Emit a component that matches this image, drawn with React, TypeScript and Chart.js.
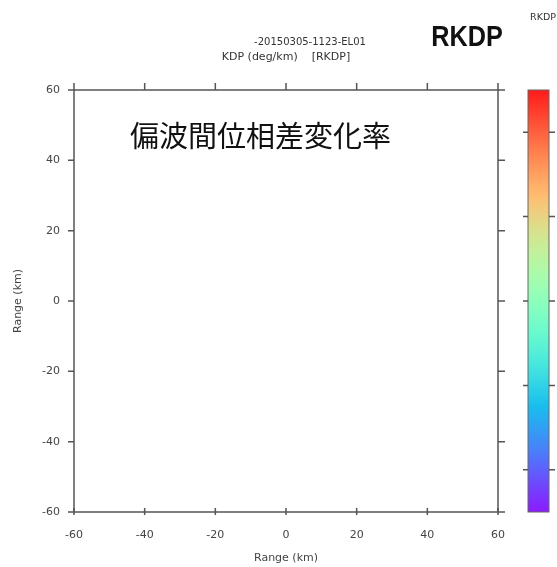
import React, { useEffect, useRef } from "react";
import { Chart, registerables } from "chart.js";

Chart.register(...registerables);

// ---- data ----
const xTickValues = [-60, -40, -20, 0, 20, 40, 60];
const yTickValues = [-60, -40, -20, 0, 20, 40, 60];
const rangeMin = -60;
const rangeMax = 60;
const echoPoints: { x: number; y: number }[] = []; // no echoes shown
const colorbarTickFractions = [0.1, 0.3, 0.5, 0.7, 0.9];
const mainTitle = "偏波間位相差変化率";
const subTitle1 = "-20150305-1123-EL01";
const subTitle2 = "KDP (deg/km)    [RKDP]";
const productName = "RKDP";
const xAxisTitle = "Range (km)";
const yAxisTitle = "Range (km)";

// matplotlib-like "rainbow" colormap (t=0 purple -> t=1 red)
function rainbow(t: number): string {
  const r = Math.min(1, Math.abs(2 * t - 0.5));
  const g = Math.sin(Math.PI * t);
  const b = Math.cos((Math.PI * t) / 2);
  const wash = 0.1;
  const f = (v: number) => Math.round(255 * (v + (1 - v) * wash));
  return `rgb(${f(r)},${f(g)},${f(b)})`;
}

const AXIS_COLOR = "#555";
const TEXT_COLOR = "#444";

const decorPlugin = {
  id: "decor",
  afterDraw(chart: any) {
    const { ctx, chartArea: a, scales } = chart;
    const xs = scales.x;
    const ys = scales.y;
    ctx.save();

    // frame
    ctx.strokeStyle = AXIS_COLOR;
    ctx.lineWidth = 1.5;
    ctx.strokeRect(a.left, a.top, a.right - a.left, a.bottom - a.top);

    // tick marks
    ctx.beginPath();
    for (const v of xTickValues) {
      const px = xs.getPixelForValue(v);
      ctx.moveTo(px, a.top - 7);
      ctx.lineTo(px, a.top);
      ctx.moveTo(px, a.bottom - 4);
      ctx.lineTo(px, a.bottom + 3);
    }
    for (const v of yTickValues) {
      const py = ys.getPixelForValue(v);
      ctx.moveTo(a.left - 6, py);
      ctx.lineTo(a.left, py);
      ctx.moveTo(a.right, py);
      ctx.lineTo(a.right + 7, py);
    }
    ctx.stroke();

    // colour bar
    const cbL = 528;
    const cbR = 549;
    const cbT = a.top;
    const cbB = a.bottom;
    const grad = ctx.createLinearGradient(0, cbB, 0, cbT);
    for (let i = 0; i <= 40; i++) {
      const t = i / 40;
      grad.addColorStop(t, rainbow(t));
    }
    ctx.fillStyle = grad;
    ctx.fillRect(cbL, cbT, cbR - cbL, cbB - cbT);
    ctx.strokeStyle = "#666";
    ctx.lineWidth = 1;
    ctx.strokeRect(cbL, cbT, cbR - cbL, cbB - cbT);
    ctx.strokeStyle = AXIS_COLOR;
    ctx.lineWidth = 1.5;
    ctx.beginPath();
    for (const f of colorbarTickFractions) {
      const py = cbB - f * (cbB - cbT);
      ctx.moveTo(cbL - 5, py);
      ctx.lineTo(cbL, py);
      ctx.moveTo(cbR, py);
      ctx.lineTo(cbR + 6, py);
    }
    ctx.stroke();

    // titles
    ctx.fillStyle = "#111";
    ctx.textBaseline = "middle";
    ctx.textAlign = "left";
    ctx.font = '400 29px "Noto Sans CJK JP"';
    ctx.fillText(mainTitle, 130, 136);

    ctx.fillStyle = "#333";
    ctx.textAlign = "center";
    ctx.font = '10px "DejaVu Sans"';
    ctx.fillText(subTitle1, 310, 42);
    ctx.font = '11px "DejaVu Sans"';
    ctx.fillText(subTitle2, 286, 57);

    ctx.font = '9.5px "DejaVu Sans"';
    ctx.fillText(productName, 543, 18);

    ctx.save();
    ctx.translate(467, 38);
    ctx.scale(0.87, 1);
    ctx.fillStyle = "#111";
    ctx.font = 'bold 29px "Liberation Sans"';
    ctx.fillText(productName, 0, 0);
    ctx.restore();

    // axis titles
    ctx.fillStyle = TEXT_COLOR;
    ctx.font = '11px "DejaVu Sans"';
    ctx.fillText(xAxisTitle, (a.left + a.right) / 2, 558);
    ctx.save();
    ctx.translate(18, (a.top + a.bottom) / 2);
    ctx.rotate(-Math.PI / 2);
    ctx.fillText(yAxisTitle, 0, 0);
    ctx.restore();

    ctx.restore();
  },
};

export default function App() {
  const canvasRef = useRef<HTMLCanvasElement | null>(null);

  useEffect(() => {
    document.body.style.margin = "0";
    const canvas = canvasRef.current;
    if (!canvas) return;
    const tickFont = { family: "DejaVu Sans", size: 11 };
    const chart = new Chart(canvas, {
      type: "scatter",
      data: {
        datasets: [
          {
            data: echoPoints,
            pointRadius: 0,
          },
        ],
      },
      options: {
        animation: false,
        responsive: false,
        layout: { padding: { top: 90, right: 59, left: 0, bottom: 0 } },
        plugins: {
          legend: { display: false },
          tooltip: { enabled: false },
          title: { display: false },
        },
        scales: {
          x: {
            type: "linear",
            min: rangeMin,
            max: rangeMax,
            afterBuildTicks: (s: any) => {
              s.ticks = xTickValues.map((v) => ({ value: v }));
            },
            afterFit: (s: any) => {
              s.height = 55;
            },
            grid: { display: false, drawTicks: false },
            border: { display: false },
            ticks: { padding: 17, color: TEXT_COLOR, font: tickFont, maxRotation: 0 },
          },
          y: {
            type: "linear",
            min: rangeMin,
            max: rangeMax,
            afterBuildTicks: (s: any) => {
              s.ticks = yTickValues.map((v) => ({ value: v }));
            },
            afterFit: (s: any) => {
              s.width = 74;
            },
            grid: { display: false, drawTicks: false },
            border: { display: false },
            ticks: { padding: 14, color: TEXT_COLOR, font: tickFont },
          },
        },
      },
      plugins: [decorPlugin],
    });
    return () => chart.destroy();
  }, []);

  return (
    <div style={{ width: 557, height: 567, background: "#fff" }}>
      <canvas ref={canvasRef} width={557} height={567} style={{ display: "block" }} />
    </div>
  );
}
